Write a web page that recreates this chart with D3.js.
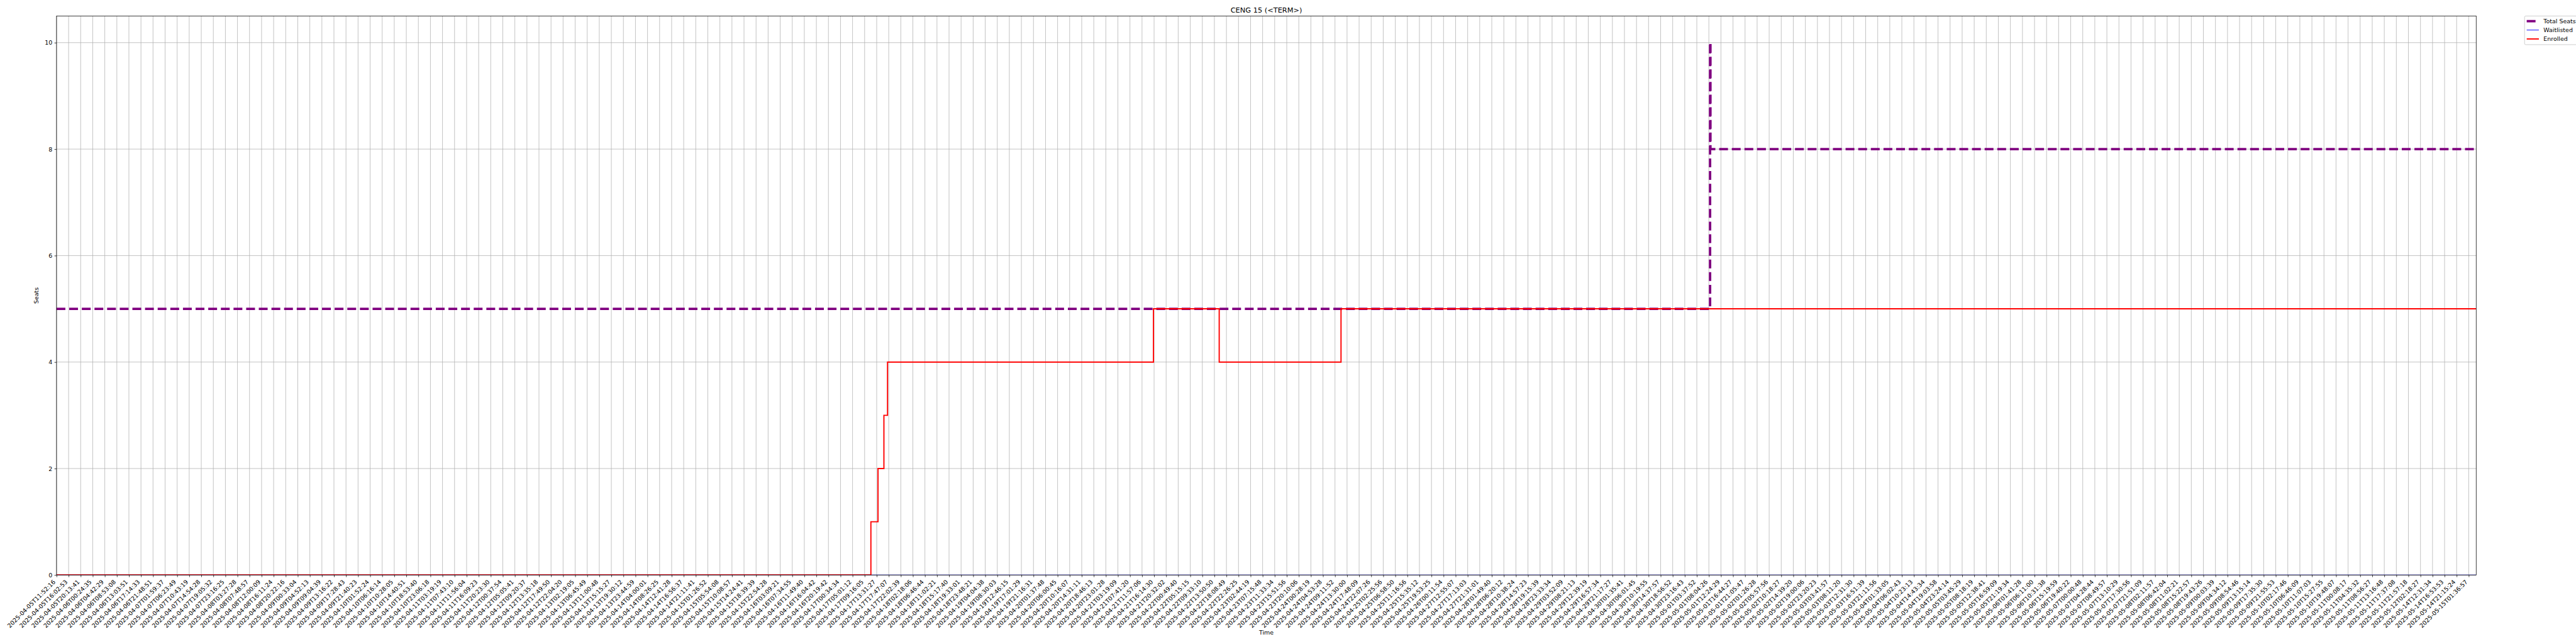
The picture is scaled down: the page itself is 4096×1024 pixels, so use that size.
<!DOCTYPE html>
<html>
<head>
<meta charset="utf-8">
<script src="https://cdn.jsdelivr.net/npm/d3@7"></script>
<style>
  html, body { margin: 0; padding: 0; background: #fff; overflow: hidden; }
  svg { display: block; font-family: "DejaVu Sans", sans-serif; }
</style>
</head>
<body>
<svg id="chart" width="4096" height="1024"></svg>
<script>
// ---------- data ----------
const title = "CENG 15 (<TERM>)";
const xLabel = "Time";
const yLabel = "Seats";

const tickLabels = [
"2025-04-05T11:52:16","2025-04-05T16:02:53","2025-04-05T20:13:41","2025-04-06T00:24:35","2025-04-06T04:42:29",
"2025-04-06T08:53:08","2025-04-06T13:03:51","2025-04-06T17:14:33","2025-04-06T21:48:51","2025-04-07T01:59:37",
"2025-04-07T06:23:49","2025-04-07T10:43:19","2025-04-07T14:54:28","2025-04-07T19:05:32","2025-04-07T23:16:25",
"2025-04-08T03:27:28","2025-04-08T07:48:57","2025-04-08T12:00:09","2025-04-08T16:11:24","2025-04-08T20:22:16",
"2025-04-09T00:33:04","2025-04-09T04:52:13","2025-04-09T09:04:39","2025-04-09T13:16:22","2025-04-09T17:28:43",
"2025-04-09T21:40:23","2025-04-10T01:52:24","2025-04-10T06:16:14","2025-04-10T10:28:05","2025-04-10T14:40:51",
"2025-04-10T18:53:40","2025-04-10T23:06:18","2025-04-11T03:19:19","2025-04-11T07:43:10","2025-04-11T11:56:04",
"2025-04-11T16:09:23","2025-04-11T20:23:30","2025-04-12T00:37:54","2025-04-12T05:05:41","2025-04-12T09:20:37",
"2025-04-12T13:35:18","2025-04-12T17:49:50","2025-04-12T22:04:20","2025-04-13T02:19:05","2025-04-13T06:45:49",
"2025-04-13T11:00:48","2025-04-13T15:15:27","2025-04-13T19:30:12","2025-04-13T23:44:59","2025-04-14T04:00:01",
"2025-04-14T08:26:25","2025-04-14T12:41:28","2025-04-14T16:56:37","2025-04-14T21:11:41","2025-04-15T01:26:52",
"2025-04-15T05:54:08","2025-04-15T10:08:57","2025-04-15T14:24:41","2025-04-15T18:39:39","2025-04-15T22:54:28",
"2025-04-16T03:09:21","2025-04-16T07:34:55","2025-04-16T11:49:40","2025-04-16T16:04:42","2025-04-16T20:19:42",
"2025-04-17T00:34:34","2025-04-17T05:01:12","2025-04-17T09:16:05","2025-04-17T13:31:27","2025-04-17T17:47:07",
"2025-04-17T22:02:39","2025-04-18T02:18:06","2025-04-18T06:46:44","2025-04-18T11:02:21","2025-04-18T15:17:40",
"2025-04-18T19:33:01","2025-04-18T23:48:21","2025-04-19T04:04:38","2025-04-19T08:30:03","2025-04-19T12:46:15",
"2025-04-19T17:01:29","2025-04-19T21:16:31","2025-04-20T01:37:48","2025-04-20T06:00:45","2025-04-20T10:16:07",
"2025-04-20T14:31:11","2025-04-20T18:46:13","2025-04-20T23:01:28","2025-04-21T03:19:09","2025-04-21T07:41:20",
"2025-04-21T11:57:06","2025-04-21T16:14:30","2025-04-21T20:32:02","2025-04-22T00:49:40","2025-04-22T05:15:15",
"2025-04-22T09:33:10","2025-04-22T13:50:50","2025-04-22T18:08:49","2025-04-22T22:26:25","2025-04-23T02:44:19",
"2025-04-23T07:15:48","2025-04-23T11:33:34","2025-04-23T15:51:56","2025-04-23T20:10:06","2025-04-24T00:28:19",
"2025-04-24T04:53:28","2025-04-24T09:11:52","2025-04-24T13:30:00","2025-04-24T17:48:09","2025-04-24T22:07:26",
"2025-04-25T02:25:56","2025-04-25T06:58:50","2025-04-25T11:16:56","2025-04-25T15:35:12","2025-04-25T19:53:25",
"2025-04-26T00:11:54","2025-04-27T12:55:07","2025-04-27T17:13:03","2025-04-27T21:31:01","2025-04-28T01:49:40",
"2025-04-28T06:20:12","2025-04-28T10:38:24","2025-04-28T14:57:23","2025-04-28T19:15:39","2025-04-28T23:33:34",
"2025-04-29T03:52:09","2025-04-29T08:21:13","2025-04-29T12:39:19","2025-04-29T16:57:34","2025-04-29T21:17:27",
"2025-04-30T01:35:41","2025-04-30T06:01:45","2025-04-30T10:19:55","2025-04-30T14:37:57","2025-04-30T18:56:52",
"2025-04-30T23:16:43","2025-05-01T03:37:52","2025-05-01T08:04:26","2025-05-01T12:24:29","2025-05-01T16:44:27",
"2025-05-01T21:05:47","2025-05-02T01:26:28","2025-05-02T05:57:56","2025-05-02T10:18:27","2025-05-02T14:39:20",
"2025-05-02T19:00:06","2025-05-02T23:20:23","2025-05-03T03:41:57","2025-05-03T08:11:20","2025-05-03T12:31:30",
"2025-05-03T16:51:39","2025-05-03T21:11:56","2025-05-04T01:33:05","2025-05-04T06:02:43","2025-05-04T10:23:13",
"2025-05-04T14:43:34","2025-05-04T19:03:58","2025-05-04T23:24:14","2025-05-05T03:45:29","2025-05-05T08:18:19",
"2025-05-05T12:38:41","2025-05-05T16:59:09","2025-05-05T21:19:34","2025-05-06T01:41:28","2025-05-06T06:11:00",
"2025-05-06T10:31:38","2025-05-06T15:19:59","2025-05-06T19:40:22","2025-05-07T00:00:48","2025-05-07T04:28:44",
"2025-05-07T08:49:57","2025-05-07T13:10:29","2025-05-07T17:30:56","2025-05-07T21:51:09","2025-05-08T02:11:57",
"2025-05-08T06:42:04","2025-05-08T11:02:21","2025-05-08T15:22:57","2025-05-08T19:43:26","2025-05-09T00:03:39",
"2025-05-09T04:34:12","2025-05-09T08:54:46","2025-05-09T13:15:14","2025-05-09T17:35:30","2025-05-09T21:55:53",
"2025-05-10T02:17:46","2025-05-10T06:46:09","2025-05-10T11:07:03","2025-05-10T15:27:55","2025-05-10T19:48:07",
"2025-05-11T00:08:17","2025-05-11T04:35:32","2025-05-11T08:56:27","2025-05-11T13:16:48","2025-05-11T17:37:08",
"2025-05-11T21:57:18","2025-05-12T02:18:27","2025-05-14T12:31:34","2025-05-14T16:53:53","2025-05-14T21:15:24",
"2025-05-15T01:36:57"
];

// x is the position along the categorical time axis (tick index units); last sample position:
const xEnd = 200.62;

// step series: [position, value] change points (steps-post)
const totalSeats = [[0, 5], [137.1, 10], [137.13, 8]];
const waitlisted = [[0, 0]];
const enrolled = [[0, 0], [67.52, 1], [68.11, 2], [68.6, 3], [68.9, 4], [90.95, 5], [96.4, 4], [106.5, 5]];

const yTicks = [0, 2, 4, 6, 8, 10];
const yMax = 10.5;

const seriesNames = ["Total Seats", "Waitlisted", "Enrolled"];
const seriesColors = ["#800080", "#0000ff", "#ff0000"];

// ---------- layout ----------
const S = 4096 / 6000;
const W = 4096, H = 1024;
const m = { left: 131.7 * S, right: 5767.5 * S, top: 37.3 * S, bottom: 1339.3 * S };
const pt = 100 / 72 * S; // 1 pt in output px

const svg = d3.select("#chart");

const x = d3.scaleLinear().domain([0, xEnd]).range([m.left, m.right]);
const y = d3.scaleLinear().domain([0, yMax]).range([m.bottom, m.top]);

const fontTick = 10 * pt;

svg.append("defs").append("clipPath").attr("id", "plotclip")
  .append("rect").attr("x", m.left).attr("y", m.top)
  .attr("width", m.right - m.left).attr("height", m.bottom - m.top);

// grid
const grid = svg.append("g");
grid.selectAll("line.gx").data(d3.range(tickLabels.length)).join("line")
  .attr("x1", d => x(d)).attr("x2", d => x(d))
  .attr("y1", m.top).attr("y2", m.bottom)
  .attr("stroke", "#b0b0b0").attr("stroke-width", 0.8 * pt);
grid.selectAll("line.gy").data(yTicks).join("line")
  .attr("x1", m.left).attr("x2", m.right)
  .attr("y1", d => y(d)).attr("y2", d => y(d))
  .attr("stroke", "#b0b0b0").attr("stroke-width", 0.8 * pt);

// lines
function stepPts(arr) {
  const pts = arr.slice();
  pts.push([xEnd, arr[arr.length - 1][1]]);
  return pts;
}
const line = d3.line().x(d => x(d[0])).y(d => y(d[1])).curve(d3.curveStepAfter);

const plot = svg.append("g").attr("clip-path", "url(#plotclip)");
plot.append("path").datum(stepPts(totalSeats))
  .attr("d", line).attr("fill", "none")
  .attr("stroke", seriesColors[0]).attr("stroke-width", 4 * pt)
  .attr("stroke-dasharray", `${3.7 * 4 * pt},${1.6 * 4 * pt}`);
plot.append("path").datum(stepPts(waitlisted))
  .attr("d", line).attr("fill", "none")
  .attr("stroke", seriesColors[1]).attr("stroke-width", 1 * pt);
plot.append("path").datum(stepPts(enrolled))
  .attr("d", line).attr("fill", "none")
  .attr("stroke", seriesColors[2]).attr("stroke-width", 2 * pt);

// axes frame
svg.append("rect")
  .attr("x", m.left).attr("y", m.top)
  .attr("width", m.right - m.left).attr("height", m.bottom - m.top)
  .attr("fill", "none").attr("stroke", "#000").attr("stroke-width", 0.8 * pt);

// x axis
const xAxis = d3.axisBottom(x)
  .tickValues(d3.range(tickLabels.length))
  .tickFormat(i => tickLabels[i])
  .tickSize(3.5 * pt).tickPadding(3.5 * pt);
const gx = svg.append("g").attr("transform", `translate(0,${m.bottom})`).call(xAxis);
gx.select(".domain").remove();
gx.selectAll(".tick line").attr("stroke", "#000").attr("stroke-width", 0.8 * pt);
gx.selectAll(".tick text")
  .attr("font-size", fontTick).attr("font-family", "DejaVu Sans").attr("fill", "#000")
  .attr("text-anchor", "end")
  .attr("dy", null).attr("y", null)
  .attr("transform", `translate(${-1.6},${7 * pt + 7.4 * pt * 0.707}) rotate(-45)`);

// y axis
const yAxis = d3.axisLeft(y).tickValues(yTicks).tickFormat(d3.format("d"))
  .tickSize(3.5 * pt).tickPadding(3.5 * pt);
const gy = svg.append("g").attr("transform", `translate(${m.left},0)`).call(yAxis);
gy.select(".domain").remove();
gy.selectAll(".tick line").attr("stroke", "#000").attr("stroke-width", 0.8 * pt);
gy.selectAll(".tick text").attr("font-size", fontTick).attr("font-family", "DejaVu Sans").attr("fill", "#000");

// title
svg.append("text")
  .attr("x", (m.left + m.right) / 2).attr("y", m.top - 6 * pt)
  .attr("text-anchor", "middle").attr("font-size", 12 * pt).attr("fill", "#000")
  .text(title);

// axis labels
svg.append("text")
  .attr("x", (m.left + m.right) / 2).attr("y", 1473 * S)
  .attr("text-anchor", "middle").attr("dominant-baseline", "central")
  .attr("font-size", fontTick).attr("fill", "#000").text(xLabel);
svg.append("text")
  .attr("transform", `translate(${84 * S},${(m.top + m.bottom) / 2}) rotate(-90)`)
  .attr("text-anchor", "middle").attr("dominant-baseline", "central")
  .attr("font-size", fontTick).attr("fill", "#000").text(yLabel);

// legend
const lgX = m.right + 0.02 * (m.right - m.left);
const lg = svg.append("g").attr("transform", `translate(${lgX},${m.top})`);
lg.append("rect").attr("x", 0).attr("y", 0).attr("width", 200).attr("height", 66.7 * S)
  .attr("rx", 0.2 * fontTick).attr("fill", "#fff").attr("fill-opacity", 0.8)
  .attr("stroke", "#cccccc").attr("stroke-width", 1 * pt);
const rowY = [12 * S, 32.7 * S, 53.4 * S];
const widths = [4, 1, 2];
seriesNames.forEach((name, i) => {
  const h = lg.append("line")
    .attr("x1", 5 * S).attr("x2", 33.3 * S)
    .attr("y1", rowY[i]).attr("y2", rowY[i])
    .attr("stroke", seriesColors[i]).attr("stroke-width", widths[i] * pt);
  if (i === 0) h.attr("stroke-dasharray", `${3.7 * 4 * pt},${1.6 * 4 * pt}`);
  lg.append("text").attr("x", 44 * S).attr("y", rowY[i])
    .attr("dominant-baseline", "central").attr("font-size", fontTick).attr("fill", "#000")
    .text(name);
});
</script>
</body>
</html>
